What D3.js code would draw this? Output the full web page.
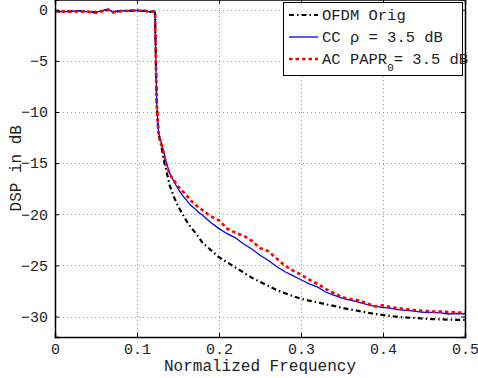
<!DOCTYPE html>
<html>
<head>
<meta charset="utf-8">
<script src="https://cdn.jsdelivr.net/npm/d3@7"></script>
<style>
  html, body { margin: 0; padding: 0; background: #fff; }
  svg { display: block; }
  text { font-family: "Liberation Mono", "DejaVu Sans Mono", monospace; fill: #222; }
</style>
</head>
<body>
<script>
// Normalized frequency grid shared by the three spectra
const freq = [0, 0.01, 0.02, 0.03, 0.04, 0.05, 0.06, 0.065, 0.07, 0.08, 0.09, 0.1, 0.11, 0.116, 0.12,
  0.122, 0.123, 0.124, 0.125, 0.126, 0.128, 0.13, 0.133, 0.136, 0.14, 0.145, 0.15, 0.155, 0.16, 0.165,
  0.17, 0.175, 0.18, 0.19, 0.2, 0.21, 0.22, 0.23, 0.24, 0.25, 0.26, 0.27, 0.28, 0.29, 0.3, 0.31, 0.32,
  0.33, 0.34, 0.35, 0.36, 0.37, 0.38, 0.39, 0.4, 0.41, 0.42, 0.43, 0.44, 0.45, 0.46, 0.47, 0.48, 0.49, 0.5];

// Original OFDM spectrum (dB)
const ofdmOrig = [-0.15, -0.2, -0.15, -0.12, -0.2, -0.25, -0.08, 0.0, -0.2, -0.12, -0.1, -0.08, -0.12, -0.2, -0.12,
  -0.3, -5, -9, -10.5, -11.8, -12.8, -13.5, -14.8, -15.8, -17.2, -18.3, -19.2, -19.9, -20.6, -21.2,
  -21.7, -22.2, -22.8, -23.5, -24.2, -24.7, -25.2, -25.7, -26.2, -26.6, -27.0, -27.4, -27.7, -28.0, -28.25, -28.45, -28.6,
  -28.8, -28.95, -29.15, -29.3, -29.45, -29.6, -29.75, -29.85, -29.95, -30.05, -30.1, -30.15, -30.2, -30.25, -30.28, -30.3, -30.32, -30.33];

// Clipping & filtering, rho = 3.5 dB
const ccRho = [-0.15, -0.2, -0.15, -0.1, -0.2, -0.25, -0.05, 0.05, -0.2, -0.1, -0.1, -0.05, -0.15, -0.2, -0.1,
  -0.3, -5, -9, -10.4, -11.8, -12.6, -13.1, -14.0, -15.0, -16.0, -16.8, -17.5, -18.1, -18.6, -19.1,
  -19.4, -19.8, -20.1, -20.8, -21.4, -21.9, -22.3, -22.9, -23.4, -24.0, -24.5, -25.1, -25.6, -26.0, -26.4, -26.8, -27.1,
  -27.6, -27.9, -28.2, -28.4, -28.6, -28.8, -29.0, -29.1, -29.2, -29.35, -29.4, -29.5, -29.6, -29.6, -29.65, -29.75, -29.7, -29.75];

// Active constellation, PAPR0 = 3.5 dB
const acPapr = [-0.15, -0.15, -0.2, -0.15, -0.2, -0.3, -0.1, 0.0, -0.25, -0.15, -0.1, -0.1, -0.1, -0.25, -0.15,
  -0.3, -5.2, -9.1, -10.5, -11.9, -12.7, -13.2, -14.2, -15.2, -16.1, -16.7, -17.25, -17.7, -18.1, -18.6,
  -19.0, -19.3, -19.6, -20.2, -20.6, -21.4, -21.8, -22.1, -22.6, -23.3, -23.6, -24.3, -25.0, -25.5, -25.9, -26.4, -26.8,
  -27.3, -27.7, -28.1, -28.3, -28.4, -28.7, -29.0, -28.9, -29.1, -29.2, -29.3, -29.4, -29.45, -29.5, -29.5, -29.55, -29.6, -29.6];

const xTicks = [0, 0.1, 0.2, 0.3, 0.4, 0.5];
const yTicks = [-30, -25, -20, -15, -10, -5, 0];

const W = 478, H = 378;
const pLeft = 55, pRight = 465, pTop = -0.5, pBottom = 337;

const svg = d3.select("body").append("svg").attr("width", W).attr("height", H);

const x = d3.scaleLinear().domain([0, 0.5]).range([pLeft, pRight]);
const y = d3.scaleLinear().domain([-32, 1]).range([pBottom, pTop]);

// dotted grid
const grid = svg.append("g").attr("stroke", "#9a9a9a").attr("stroke-width", 1)
  .attr("stroke-dasharray", "1,3").attr("shape-rendering", "crispEdges");
xTicks.slice(1, -1).forEach(t => grid.append("line")
  .attr("x1", Math.round(x(t)) + 0.5).attr("x2", Math.round(x(t)) + 0.5).attr("y1", pTop).attr("y2", pBottom));
yTicks.forEach(t => grid.append("line")
  .attr("y1", Math.round(y(t)) + 0.5).attr("y2", Math.round(y(t)) + 0.5).attr("x1", pLeft).attr("x2", pRight));

// curves
svg.append("clipPath").attr("id", "plot").append("rect")
  .attr("x", pLeft).attr("y", pTop).attr("width", pRight - pLeft).attr("height", pBottom - pTop);
const line = vals => d3.line().x((d, i) => x(freq[i])).y(d => y(d))(vals);
const curves = svg.append("g").attr("clip-path", "url(#plot)").attr("fill", "none");
curves.append("path").attr("d", line(ofdmOrig)).attr("stroke", "#000").attr("stroke-width", 2.2)
  .attr("stroke-dasharray", "5,3,1.5,3");
curves.append("path").attr("d", line(ccRho)).attr("stroke", "#0000ff").attr("stroke-width", 1.3);
curves.append("path").attr("d", line(acPapr)).attr("stroke", "#ff0000").attr("stroke-width", 2.6)
  .attr("stroke-dasharray", "3.5,3");

// axes with inward ticks on all four sides
const fs = 15;
const axB = svg.append("g").attr("transform", `translate(0,${pBottom})`)
  .call(d3.axisBottom(x).tickValues(xTicks).tickSize(-4).tickPadding(6).tickFormat(d3.format("")));
const axT = svg.append("g").attr("transform", `translate(0,${pTop})`)
  .call(d3.axisTop(x).tickValues(xTicks).tickSize(-4).tickFormat(""));
const axL = svg.append("g").attr("transform", `translate(${pLeft},0)`)
  .call(d3.axisLeft(y).tickValues(yTicks).tickSize(-4).tickPadding(7).tickFormat(d => d < 0 ? "\u2212" + (-d) : d));
const axR = svg.append("g").attr("transform", `translate(${pRight},0)`)
  .call(d3.axisRight(y).tickValues(yTicks).tickSize(-4).tickFormat(""));
[axB, axT, axL, axR].forEach(a => {
  a.select(".domain").attr("stroke", "#000").attr("stroke-width", 1.5);
  a.selectAll(".tick line").attr("stroke", "#000");
  a.selectAll("text").attr("font-size", fs).attr("font-family", "Liberation Mono").attr("fill", "#222");
});

// axis titles
svg.append("text").attr("x", (pLeft + pRight) / 2).attr("y", 371).attr("text-anchor", "middle")
  .attr("font-size", 16).text("Normalized Frequency");
svg.append("text").attr("transform", `translate(21,${(pBottom + pTop) / 2}) rotate(-90)`)
  .attr("text-anchor", "middle").attr("font-size", 16).text("DSP in dB");

// legend
const lg = svg.append("g");
lg.append("rect").attr("x", 283.5).attr("y", 2.5).attr("width", 179).attr("height", 73)
  .attr("fill", "#fff").attr("stroke", "#000").attr("stroke-width", 1);
const entries = [
  { stroke: "#000", width: 2.2, dash: "5,3,1.5,3", y: 15 },
  { stroke: "#0000ff", width: 1.3, dash: null, y: 37 },
  { stroke: "#ff0000", width: 2.6, dash: "3.5,3", y: 59 }
];
entries.forEach(e => {
  lg.append("line").attr("x1", 289).attr("x2", 318).attr("y1", e.y).attr("y2", e.y)
    .attr("stroke", e.stroke).attr("stroke-width", e.width).attr("stroke-dasharray", e.dash);
});
lg.append("text").attr("x", 322).attr("y", 20).attr("font-size", 15.5).text("OFDM Orig");
lg.append("text").attr("x", 322).attr("y", 42).attr("font-size", 15.5).text("CC \u03c1 = 3.5 dB");
const t3 = lg.append("text").attr("x", 322).attr("y", 64).attr("font-size", 15.5);
t3.append("tspan").text("AC PAPR");
t3.append("tspan").attr("dy", 7).attr("font-size", 11).text("0");
t3.append("tspan").attr("dy", -7).text("= 3.5 dB");
</script>
</body>
</html>
